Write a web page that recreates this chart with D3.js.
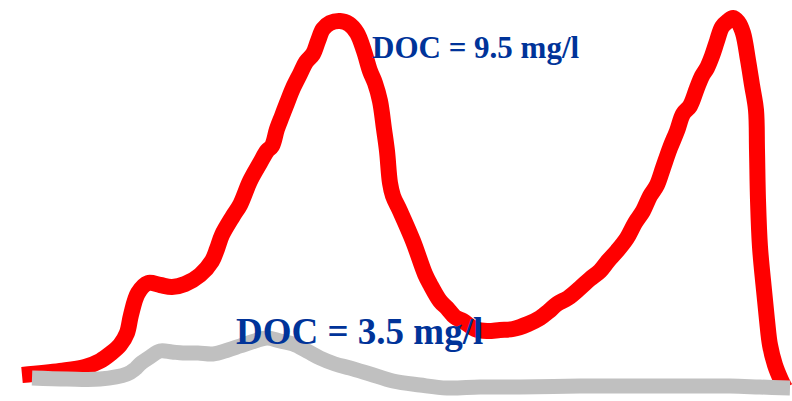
<!DOCTYPE html>
<html><head><meta charset="utf-8">
<script src="https://cdn.jsdelivr.net/npm/d3@7"></script>
<style>body{margin:0;background:#fff}svg{display:block}</style>
</head><body><svg id="c" width="792" height="401"></svg>
<script>
// Fluorescence-like emission traces (x: position, y: intensity units)
const redX = [22,60,85,100,110,120,127,131,138,148,160,172,185,200,212,217,222,233,240,250,260,267,272,277,282,287,293,300,306,313,318,323,330,340,349,357,364,370,375,380,384,387,390,393,400,413,425,430,440,447,455,463,475,487,500,513,528,540,549,557,568,580,590,600,608,617,627,635,643,650,657,663,670,677,683,690,697,702,707,712,717,722,728,733,738,743,748,752,756,757,758,760,764,767,770,775,781,785];
const redY = [26,30,34,40,47,56,68,86,108,118,116,114,117,126,140,152,166,185,196,220,238,250,255,272,285,298,313,327,339,347,360,372,378,380,377,368,350,330,318,300,272,250,218,205,190,160,127,117,100,93,84,80,72,70,71,72,77,83,90,97,103,113,122,130,140,150,163,178,190,205,216,233,253,270,287,295,313,325,333,345,360,374,380,383,379,368,341,316,291,251,201,154,111,81,56,36,21,13];
const grayX = [32,67,100,127,135,140,150,160,172,183,198,213,228,240,255,267,280,293,307,320,335,350,370,393,420,447,480,520,580,630,680,730,760,790];
const grayY = [23,22,22,27,32,37,44,50,49,48,48,47,51,55,60,63,60,57,50,43,37,33,27,20,16,13,14,14,15,15,15,15,14,13];
const labels = [
  {text:"DOC = 9.5 mg/l", x:372, y:343, size:31},
  {text:"DOC = 3.5 mg/l", x:236, y:57, size:37}
];

const W = 792, H = 401;
const svg = d3.select("#c");
const x = d3.scaleLinear().domain([0, 792]).range([0, W]);
const y = d3.scaleLinear().domain([0, 401]).range([H, 0]);

const line = d3.line().x(d => x(d[0])).y(d => y(d[1])).curve(d3.curveCatmullRom.alpha(0.5));

svg.append("path").datum(d3.zip(redX, redY))
  .attr("d", line).attr("fill","none").attr("stroke","#ff0000")
  .attr("stroke-width",16).attr("stroke-linejoin","round").attr("stroke-linecap","butt");
svg.append("path").datum(d3.zip(grayX, grayY))
  .attr("d", line).attr("fill","none").attr("stroke","#c0c0c0")
  .attr("stroke-width",15).attr("stroke-linejoin","round").attr("stroke-linecap","butt");

svg.selectAll("text.lab").data(labels).join("text").attr("class","lab")
  .attr("x", d => x(d.x)).attr("y", d => y(d.y))
  .attr("font-family","'Liberation Serif','Times New Roman',serif")
  .attr("font-weight","bold").attr("font-size", d => d.size)
  .attr("fill","#003399").text(d => d.text);
</script></body></html>
